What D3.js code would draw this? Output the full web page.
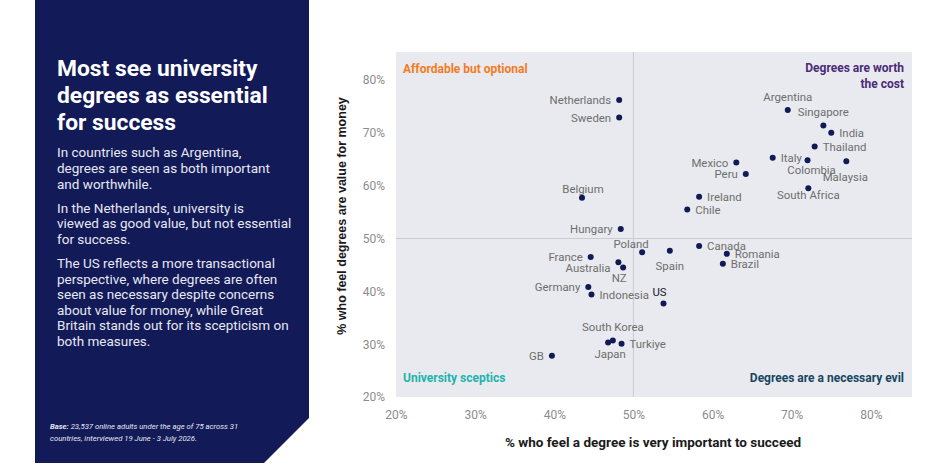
<!DOCTYPE html>
<html>
<head>
<meta charset="utf-8">
<script src="https://d3js.org/d3.v7.min.js"></script>
<style>
  body { margin: 0; background: #fff; }
  svg { display: block; font-family: Roboto, "Noto Sans", sans-serif; }
</style>
</head>
<body>
<div id="chart"></div>
<script>
// Countries and their two survey scores (%)
const countries = ['Netherlands', 'Sweden', 'Belgium', 'Hungary', 'Argentina', 'Singapore', 'India',
    'Thailand', 'Italy', 'Colombia', 'Malaysia', 'South Africa', 'Mexico', 'Peru', 'Ireland', 'Chile',
    'Canada', 'Romania', 'Brazil', 'Spain', 'Poland', 'US', 'France', 'Australia', 'NZ', 'Germany',
    'Indonesia', 'South Korea', 'Japan', 'Turkiye', 'GB'];
const importantPct = [48.2, 48.2, 43.5, 48.4, 69.5, 74.0, 75.0, 72.9, 67.6, 72.0, 76.9, 72.1, 63.0, 64.2,
    58.3, 56.8, 58.3, 61.8, 61.3, 54.6, 51.1, 53.8, 44.6, 48.1, 48.7, 44.3, 44.7, 47.4, 46.8, 48.5, 39.7];
const valuePct = [76.2, 72.9, 57.7, 51.8, 74.3, 71.4, 70.0, 67.4, 65.3, 64.8, 64.6, 59.5, 64.4, 62.2,
    57.9, 55.5, 48.6, 47.1, 45.2, 47.7, 47.4, 37.7, 46.5, 45.5, 44.5, 40.8, 39.4, 30.7, 30.3, 30.1, 27.8];
const tickValues = [20, 30, 40, 50, 60, 70, 80];

// where each label sits relative to its dot
const labelSide = {
    'Netherlands': 'l', 'Sweden': 'l', 'Belgium': 't', 'Hungary': 'l', 'Argentina': 't', 'Singapore': 't',
    'India': 'r', 'Thailand': 'r', 'Italy': 'r', 'Colombia': 'b', 'Malaysia': 'b', 'South Africa': 'b',
    'Mexico': 'l', 'Peru': 'l', 'Ireland': 'r', 'Chile': 'r', 'Canada': 'r', 'Romania': 'r', 'Brazil': 'r',
    'Spain': 'b', 'Poland': 't', 'US': 't', 'France': 'l', 'Australia': 'l', 'NZ': 'b', 'Germany': 'l',
    'Indonesia': 'r', 'South Korea': 't', 'Japan': 'b', 'Turkiye': 'r', 'GB': 'l'
};
const labelShift = {
    'Poland': [-11, 3], 'Australia': [0, 6], 'NZ': [-4, -1], 'US': [-4, 0], 'Malaysia': [-1, 5],
    'Japan': [2, 0], 'South Africa': [0, -4], 'Spain': [0, 4], 'Belgium': [1, 2], 'Argentina': [0, -2],
    'Singapore': [0, -2], 'South Korea': [0, -2], 'Colombia': [4, -1]
};

const data = countries.map((c, i) => ({ name: c, x: importantPct[i], y: valuePct[i] }));

const width = 940, height = 474;
const svg = d3.select('#chart').append('svg')
    .attr('width', width)
    .attr('height', height);

// Left panel
svg.append('path')
    .attr('d', 'M35,0 L309,0 L309,418 L264,463 L35,463 Z')
    .attr('fill', '#121a57');

const title = ['Most see university', 'degrees as essential', 'for success'];
svg.append('g').selectAll('text')
    .data(title)
    .join('text')
    .attr('x', 57)
    .attr('y', (d, i) => 76 + i * 26.8)
    .attr('fill', '#fff')
    .attr('font-size', 22.8)
    .attr('font-weight', 700)
    .text(d => d);

const paras = [
    ['In countries such as Argentina,', 'degrees are seen as both important', 'and worthwhile.'],
    ['In the Netherlands, university is', 'viewed as good value, but not essential', 'for success.'],
    ['The US reflects a more transactional', 'perspective, where degrees are often',
        'seen as necessary despite concerns', 'about value for money, while Great',
        'Britain stands out for its scepticism on', 'both measures.']
];
const paraTop = [157.3, 212.5, 268];
paras.forEach((lines, p) => {
    svg.append('g').selectAll('text')
        .data(lines)
        .join('text')
        .attr('x', 57)
        .attr('y', (d, i) => paraTop[p] + i * 15.6)
        .attr('fill', '#e6e8f2')
        .attr('font-size', 13.5)
        .text(d => d);
});

const foot = svg.append('text')
    .attr('x', 50)
    .attr('y', 428.5)
    .attr('fill', '#e6e8f2')
    .attr('font-size', 7.7)
    .attr('font-style', 'italic');
foot.append('tspan').attr('font-weight', 700).text('Base:');
foot.append('tspan').text(' 23,537 online adults under the age of 75 across 31');
svg.append('text')
    .attr('x', 50)
    .attr('y', 440.5)
    .attr('fill', '#e6e8f2')
    .attr('font-size', 7.7)
    .attr('font-style', 'italic')
    .text('countries, interviewed 19 June - 3 July 2026.');

// Scatter
const x = d3.scaleLinear().domain([20, 85.2]).range([396, 912]);
const y = d3.scaleLinear().domain([20, 85.3]).range([397, 52]);

svg.append('rect')
    .attr('x', x(20))
    .attr('y', y(85.3))
    .attr('width', x(85.2) - x(20))
    .attr('height', y(20) - y(85.3))
    .attr('fill', '#e8eaef');

svg.append('line')
    .attr('x1', x(50)).attr('x2', x(50))
    .attr('y1', y(85.3)).attr('y2', y(20))
    .attr('stroke', '#c9ccd3');
svg.append('line')
    .attr('x1', x(20)).attr('x2', x(85.2))
    .attr('y1', y(50)).attr('y2', y(50))
    .attr('stroke', '#c9ccd3');

const xAxis = svg.append('g')
    .attr('transform', `translate(0,${y(20)})`)
    .call(d3.axisBottom(x).tickValues(tickValues).tickSize(0).tickPadding(13).tickFormat(d => d + '%'));
const yAxis = svg.append('g')
    .attr('transform', `translate(${x(20)},0)`)
    .call(d3.axisLeft(y).tickValues(tickValues).tickSize(0).tickPadding(11).tickFormat(d => d + '%'));
[xAxis, yAxis].forEach(a => {
    a.select('.domain').remove();
    a.selectAll('text')
        .attr('fill', '#8c8c8c')
        .attr('font-size', 12)
        .attr('font-family', 'Roboto, sans-serif');
});

// Axis titles
svg.append('text')
    .attr('x', 653)
    .attr('y', 447)
    .attr('text-anchor', 'middle')
    .attr('font-size', 13.5)
    .attr('font-weight', 700)
    .attr('fill', '#1a1a1a')
    .text('% who feel a degree is very important to succeed');
svg.append('text')
    .attr('transform', 'translate(346,216) rotate(-90)')
    .attr('text-anchor', 'middle')
    .attr('font-family', '"Liberation Sans", Arial, sans-serif')
    .attr('font-size', 12.5)
    .attr('font-weight', 700)
    .attr('fill', '#1a1a1a')
    .text('% who feel degrees are value for money');

// Quadrant labels
const quad = [
    { t: 'Affordable but optional', x: 403, y: 73, a: 'start', c: '#f57b1f' },
    { t: 'Degrees are worth', x: 904, y: 72, a: 'end', c: '#4b2a78' },
    { t: 'the cost', x: 904, y: 88, a: 'end', c: '#4b2a78' },
    { t: 'University sceptics', x: 403, y: 382, a: 'start', c: '#22b3ad' },
    { t: 'Degrees are a necessary evil', x: 904, y: 382, a: 'end', c: '#17465f' }
];
svg.append('g').selectAll('text')
    .data(quad)
    .join('text')
    .attr('x', d => d.x)
    .attr('y', d => d.y)
    .attr('text-anchor', d => d.a)
    .attr('fill', d => d.c)
    .attr('font-size', 12)
    .attr('font-weight', 700)
    .text(d => d.t);

// Dots
svg.append('g').selectAll('circle')
    .data(data)
    .join('circle')
    .attr('cx', d => x(d.x))
    .attr('cy', d => y(d.y))
    .attr('r', 3)
    .attr('fill', '#111a55');

// Labels
svg.append('g').selectAll('text')
    .data(data)
    .join('text')
    .attr('x', d => {
        const s = labelSide[d.name];
        const shift = labelShift[d.name] ? labelShift[d.name][0] : 0;
        return x(d.x) + (s === 'l' ? -8 : s === 'r' ? 8 : 0) + shift;
    })
    .attr('y', d => {
        const s = labelSide[d.name];
        const shift = labelShift[d.name] ? labelShift[d.name][1] : 0;
        return y(d.y) + (s === 't' ? -7 : s === 'b' ? 15 : 4.2) + shift;
    })
    .attr('text-anchor', d => {
        const s = labelSide[d.name];
        return s === 'l' ? 'end' : s === 'r' ? 'start' : 'middle';
    })
    .attr('fill', d => d.name === 'US' ? '#1a1a2a' : '#6e6e6e')
    .attr('font-size', 11.4)
    .text(d => d.name);
</script>
</body>
</html>
